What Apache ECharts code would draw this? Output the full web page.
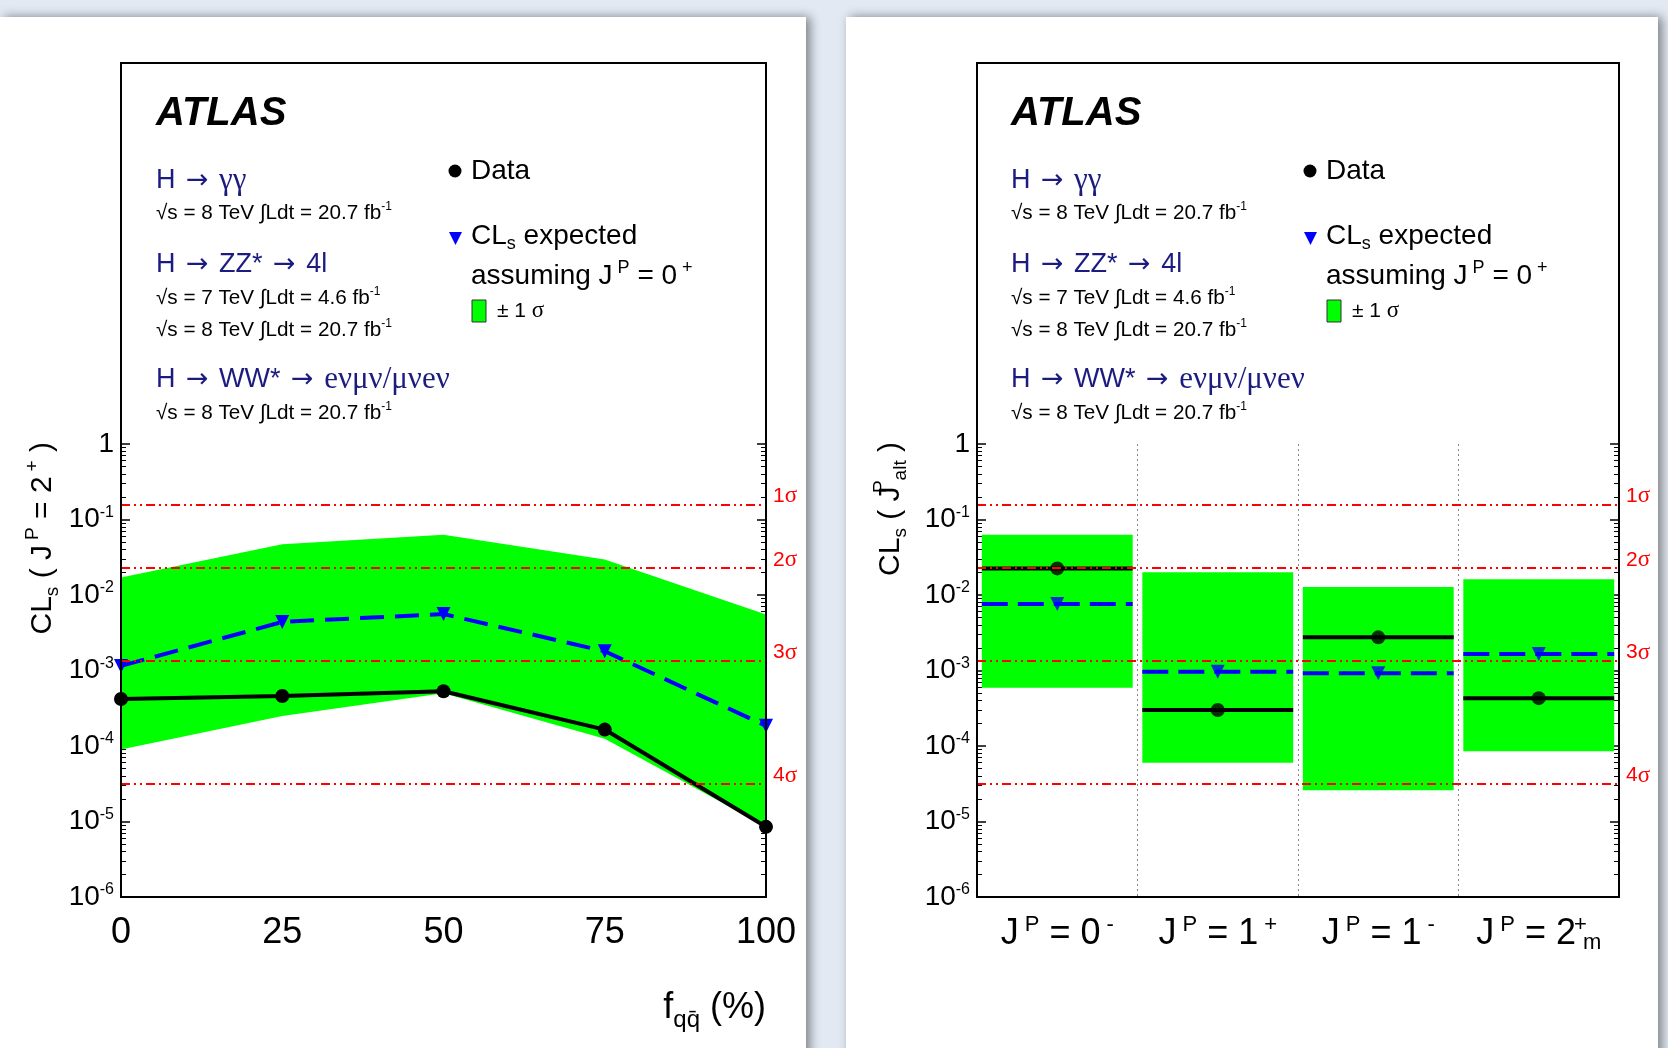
<!DOCTYPE html>
<html>
<head>
<meta charset="utf-8">
<title>ATLAS CLs spin</title>
<script src="https://cdn.jsdelivr.net/npm/echarts@6.0.0/dist/echarts.min.js"></script>
<style>
html, body { margin: 0; padding: 0; background: #e2e9f3; }
#chart { width: 1668px; height: 1048px; }
</style>
</head>
<body>
<div id="chart"></div>
<script>
// 左图: CLs(J^P = 2+) 随 f_qq 的变化
var fqq = [0, 25, 50, 75, 100];
var obsSpin2 = [4.2e-4, 4.6e-4, 5.3e-4, 1.65e-4, 8.5e-6];
var expSpin2 = [1.15e-3, 4.4e-3, 5.6e-3, 1.8e-3, 1.85e-4];
var bandHi = [0.017, 0.047, 0.063, 0.0295, 5.5e-3];
var bandLo = [9.0e-5, 2.5e-4, 5.0e-4, 1.25e-4, 8.6e-6];

// 右图: 其它 J^P 假设
var spins = ['0', '1', '1', '2'];
var parities = ['-', '+', '-', '+'];
var spinSubs = ['', '', '', 'm'];
var categories = ['JP=0-', 'JP=1+', 'JP=1-', 'JP=2m+'];
var obsAlt = [0.0225, 3.0e-4, 2.75e-3, 4.3e-4];
var expAlt = [7.6e-3, 9.6e-4, 9.2e-4, 1.66e-3];
var altHi = [0.063, 0.020, 0.0128, 0.0162];
var altLo = [5.9e-4, 6.0e-5, 2.6e-5, 8.5e-5];

// 红色 n sigma 参考线
var sigmaP = [0.1587, 0.02275, 0.00135, 3.167e-5];
var sigmaLabels = ['1', '2', '3', '4'];

var FONT = '"Liberation Sans", Arial, Helvetica, sans-serif';
var SERIF = '"Liberation Serif", "DejaVu Serif", serif';
var ARROW = '"DejaVu Sans", sans-serif';
var NAVY = '#1c1c80';
var GREEN = '#00ff00';

var chart = echarts.init(document.getElementById('chart'));

function tok(size, color, family, extra) {
    var o = { fontSize: size, color: color, fill: color, fontFamily: family || FONT };
    for (var k in extra) o[k] = extra[k];
    return o;
}

var richLeg = {
    atlas: tok(40, '#000', FONT, { fontWeight: 'bold', fontStyle: 'italic' }),
    h: tok(27, NAVY, FONT, { lineHeight: 32 }),
    ha: tok(27, NAVY, ARROW, { lineHeight: 32, padding: [0, 3, 0, 3] }),
    hg: tok(31, NAVY, SERIF, { lineHeight: 32 }),
    e: tok(20.7, '#000', FONT, { lineHeight: 24 }),
    es: tok(12, '#000', FONT, { verticalAlign: 'top', lineHeight: 12 }),
    d: tok(28, '#000', FONT, { lineHeight: 34 }),
    ds: tok(18, '#000', FONT, { verticalAlign: 'bottom', lineHeight: 18 }),
    dp: tok(18, '#000', FONT, { verticalAlign: 'top', lineHeight: 18, padding: [0, 0, 0, 5] }),
    p: tok(21, '#000', FONT, { lineHeight: 26 }),
    pg: tok(23, '#000', SERIF, { lineHeight: 26 }),
    t: tok(30, '#000', FONT, { lineHeight: 39 }),
    ts: tok(19, '#000', FONT, { verticalAlign: 'bottom', lineHeight: 19 }),
    tp: tok(19, '#000', FONT, { verticalAlign: 'top', lineHeight: 19, padding: [0, 0, 0, 5] }),
    tp0: tok(19, '#000', FONT, { verticalAlign: 'top', lineHeight: 19, width: 1, padding: [0, 0, 0, 5] }),
    x: tok(36, '#000', FONT, { lineHeight: 48 }),
    xs: tok(24, '#000', FONT, { verticalAlign: 'bottom', lineHeight: 24 })
};

function txt(x, y, s, extra) {
    var el = {
        type: 'text', x: x, y: y, z: 100, silent: true,
        style: { text: s, rich: richLeg, align: 'left', verticalAlign: 'middle',
                 textAlign: 'left', textVerticalAlign: 'middle', font: '20px ' + FONT }
    };
    for (var k in extra) el[k] = extra[k];
    return el;
}

function legendBlock(dx) {
    var e1 = '{e|√s = 8 TeV ∫Ldt = 20.7 fb}{es|-1}';
    return [
        txt(156 + dx, 114, '{atlas|ATLAS}'),
        txt(156 + dx, 181, '{h|H }{ha|→}{h| }{hg|γγ}'),
        txt(156 + dx, 213, e1),
        txt(156 + dx, 265, '{h|H }{ha|→}{h| ZZ* }{ha|→}{h| 4l}'),
        txt(156 + dx, 298, '{e|√s = 7 TeV ∫Ldt = 4.6 fb}{es|-1}'),
        txt(156 + dx, 330, e1),
        txt(156 + dx, 380, '{h|H }{ha|→}{h| WW* }{ha|→}{h| }{hg|eνμν/μνeν}'),
        txt(156 + dx, 413, e1),
        { type: 'circle', z: 100, silent: true, shape: { cx: 455 + dx, cy: 171, r: 6.5 }, style: { fill: '#000' } },
        txt(471 + dx, 171, '{d|Data}'),
        { type: 'polygon', z: 100, silent: true,
          shape: { points: [[449 + dx, 232], [462 + dx, 232], [455.5 + dx, 245]] }, style: { fill: '#0000ff' } },
        txt(471 + dx, 236, '{d|CL}{ds|s}{d| expected}'),
        txt(471 + dx, 276, '{d|assuming J}{dp|P}{d| = 0}{dp|+}'),
        { type: 'rect', z: 100, silent: true, shape: { x: 472 + dx, y: 300, width: 14, height: 22 },
          style: { fill: GREEN, stroke: '#333', lineWidth: 1 } },
        txt(497 + dx, 311, '{p|± 1 }{pg|σ}')
    ];
}

function expLabel(v) {
    var e = Math.round(Math.log10(v));
    if (e === 0) return '{b|1}';
    return '{b|10}{s|' + e + '}';
}

var yRich = {
    b: { fontSize: 28, fontFamily: FONT, color: '#000', lineHeight: 30 },
    s: { fontSize: 16, fontFamily: FONT, color: '#000', verticalAlign: 'top', lineHeight: 16 }
};

function logAxis(grid, pos, showLabel) {
    return {
        type: 'log', logBase: 10, gridIndex: grid, position: pos,
        min: 1e-6, max: 1,
        axisLine: { show: false },
        axisTick: { show: true, inside: true, length: 9, lineStyle: { color: '#000', width: 1.5 } },
        minorTick: { show: true, splitNumber: 9, length: 5, lineStyle: { color: '#000', width: 1 } },
        splitLine: { show: false },
        axisLabel: { show: showLabel, margin: 7, formatter: expLabel, rich: yRich }
    };
}

function hiddenAxis(grid) {
    return { type: 'value', gridIndex: grid, show: false, min: 0, max: 1 };
}

var sigmaLineData = sigmaP.map(function (p, i) {
    return { yAxis: p, name: sigmaLabels[i] };
});

function sigmaSeries(xi, yi) {
    return {
        type: 'line', xAxisIndex: xi, yAxisIndex: yi, data: [], z: 6, silent: true,
        markLine: {
            silent: true, symbol: 'none', animation: false, precision: 10,
            lineStyle: { color: '#ff0000', width: 2, type: [9, 4, 2, 4, 2, 4] },
            label: {
                show: true, position: 'end', distance: 7, padding: [0, 0, 16, 0],
                formatter: function (p) { return '{n|' + p.name + '}{g|σ}'; },
                rich: {
                    n: { fontSize: 21, fontFamily: FONT, color: '#ff0000' },
                    g: { fontSize: 23, fontFamily: SERIF, color: '#ff0000' }
                }
            },
            data: sigmaLineData
        }
    };
}

var catRich = {
    b: { fontSize: 36, fontFamily: FONT, color: '#000', lineHeight: 40 },
    s: { fontSize: 22, fontFamily: FONT, color: '#000', verticalAlign: 'top', lineHeight: 22, padding: [0, 0, 0, 6] },
    s0: { fontSize: 22, fontFamily: FONT, color: '#000', verticalAlign: 'top', lineHeight: 22, width: 1, padding: [0, 0, 0, 4] },
    m: { fontSize: 22, fontFamily: FONT, color: '#000', verticalAlign: 'bottom', lineHeight: 22, padding: [0, 0, 0, 2] }
};

function catLabel(value, index) {
    var s = '{b|J}{s|P}{b| = ' + spins[index] + '}';
    if (spinSubs[index]) s += '{s0|' + parities[index] + '}{m|' + spinSubs[index] + '}';
    else s += '{s|' + parities[index] + '}';
    return s;
}

var altBoxData = categories.map(function (c, i) { return [i, altLo[i], altHi[i]]; });
var obsAltData = categories.map(function (c, i) { return [i, obsAlt[i]]; });
var expAltData = categories.map(function (c, i) { return [i, expAlt[i]]; });

function hLine(color, dash) {
    return function (params, api) {
        var c = api.value(0), v = api.value(1);
        var p = api.coord([c, v]);
        var w = api.size([1, 0], [c, v])[0] * 0.94;
        return {
            type: 'line',
            shape: { x1: p[0] - w / 2, y1: p[1], x2: p[0] + w / 2, y2: p[1] },
            style: { stroke: color, lineWidth: 4, lineDash: dash }
        };
    };
}

var frameGrid = { show: true, borderColor: '#000', borderWidth: 2, backgroundColor: 'transparent', z: 10 };

var option = {
    backgroundColor: '#e2e9f3',
    animation: false,
    textStyle: { fontFamily: FONT },
    grid: [
        Object.assign({ left: 121, right: 902, top: 63, bottom: 151 }, frameGrid),
        { left: 121, right: 902, top: 444, bottom: 151 },
        Object.assign({ left: 977, right: 49, top: 63, bottom: 151 }, frameGrid),
        { left: 977, right: 49, top: 444, bottom: 151 }
    ],
    xAxis: [
        hiddenAxis(0),
        {
            type: 'value', gridIndex: 1, min: 0, max: 100, interval: 25,
            axisLine: { show: false }, axisTick: { show: false }, splitLine: { show: false },
            axisLabel: { margin: 18, fontSize: 36, color: '#000', fontFamily: FONT }
        },
        hiddenAxis(2),
        {
            type: 'category', gridIndex: 3, data: categories, boundaryGap: true,
            axisLine: { show: false }, axisTick: { show: false },
            splitLine: { show: true, lineStyle: { color: '#888', width: 1, type: [2, 3] } },
            axisLabel: { margin: 17, formatter: catLabel, rich: catRich, interval: 0 }
        }
    ],
    yAxis: [
        hiddenAxis(0),
        logAxis(1, 'left', true),
        logAxis(1, 'right', false),
        hiddenAxis(2),
        logAxis(3, 'left', true),
        logAxis(3, 'right', false)
    ],
    series: [
        {
            name: '±1σ', type: 'custom', xAxisIndex: 1, yAxisIndex: 1, z: 1, silent: true,
            data: [[50, 1e-3]],
            renderItem: function (params, api) {
                var pts = [];
                for (var i = 0; i < fqq.length; i++) pts.push(api.coord([fqq[i], bandHi[i]]));
                for (var j = fqq.length - 1; j >= 0; j--) pts.push(api.coord([fqq[j], bandLo[j]]));
                return { type: 'polygon', shape: { points: pts }, style: { fill: GREEN } };
            }
        },
        {
            name: 'expected', type: 'line', xAxisIndex: 1, yAxisIndex: 1, z: 3,
            data: fqq.map(function (x, i) { return [x, expSpin2[i]]; }),
            lineStyle: { color: '#0000ff', width: 4, type: [24, 11] },
            symbol: 'triangle', symbolRotate: 180, symbolSize: 14,
            itemStyle: { color: '#0000ff' }
        },
        {
            name: 'Data', type: 'line', xAxisIndex: 1, yAxisIndex: 1, z: 4,
            data: fqq.map(function (x, i) { return [x, obsSpin2[i]]; }),
            lineStyle: { color: '#000', width: 4 },
            symbol: 'circle', symbolSize: 14,
            itemStyle: { color: '#000' }
        },
        sigmaSeries(1, 1),
        {
            name: '±1σ alt', type: 'custom', xAxisIndex: 3, yAxisIndex: 4, z: 1, silent: true,
            data: altBoxData,
            renderItem: function (params, api) {
                var c = api.value(0);
                var top = api.coord([c, api.value(2)]);
                var bot = api.coord([c, api.value(1)]);
                var w = api.size([1, 0], [c, 1e-3])[0] * 0.94;
                return {
                    type: 'rect',
                    shape: { x: top[0] - w / 2, y: top[1], width: w, height: bot[1] - top[1] },
                    style: { fill: GREEN }
                };
            }
        },
        {
            name: 'expected alt line', type: 'custom', xAxisIndex: 3, yAxisIndex: 4, z: 3, silent: true,
            data: expAltData, renderItem: hLine('#0000ff', [26, 10])
        },
        {
            name: 'Data alt line', type: 'custom', xAxisIndex: 3, yAxisIndex: 4, z: 4, silent: true,
            data: obsAltData, renderItem: hLine('#000', null)
        },
        {
            name: 'expected alt', type: 'scatter', xAxisIndex: 3, yAxisIndex: 4, z: 3,
            data: expAltData, symbol: 'triangle', symbolRotate: 180, symbolSize: 14,
            itemStyle: { color: '#0000ff' }
        },
        {
            name: 'Data alt', type: 'scatter', xAxisIndex: 3, yAxisIndex: 4, z: 4,
            data: obsAltData, symbol: 'circle', symbolSize: 14,
            itemStyle: { color: '#000' }
        },
        sigmaSeries(3, 4)
    ],
    graphic: [
        { type: 'rect', z: -10, silent: true, shape: { x: 0, y: 17, width: 806, height: 1040 },
          style: { fill: '#fff', shadowBlur: 10, shadowOffsetX: 4, shadowColor: 'rgba(0,0,0,0.45)' } },
        { type: 'rect', z: -10, silent: true, shape: { x: 846, y: 17, width: 812, height: 1040 },
          style: { fill: '#fff', shadowBlur: 10, shadowOffsetX: 4, shadowColor: 'rgba(0,0,0,0.45)' } }
    ].concat(legendBlock(0), legendBlock(855), [
        txt(43, 442, '', { rotation: Math.PI / 2, style: { text: '{t|CL}{ts|s}{t| ( J}{tp|P}{t| = 2}{tp|+}{t| )}', rich: richLeg,
              align: 'right', verticalAlign: 'middle', textAlign: 'right', textVerticalAlign: 'middle' } }),
        txt(891, 442, '', { rotation: Math.PI / 2, style: { text: '{t|CL}{ts|s}{t| ( J}{tp0|P}{ts|alt}{t| )}', rich: richLeg,
              align: 'right', verticalAlign: 'middle', textAlign: 'right', textVerticalAlign: 'middle' } }),
        txt(766, 1008, '', { style: { text: '{x|f}{xs|qq̄}{x| (%)}', rich: richLeg,
              align: 'right', verticalAlign: 'middle', textAlign: 'right', textVerticalAlign: 'middle' } })
    ])
};

chart.setOption(option);
window.onresize = function () { chart.resize(); };
</script>
</body>
</html>
